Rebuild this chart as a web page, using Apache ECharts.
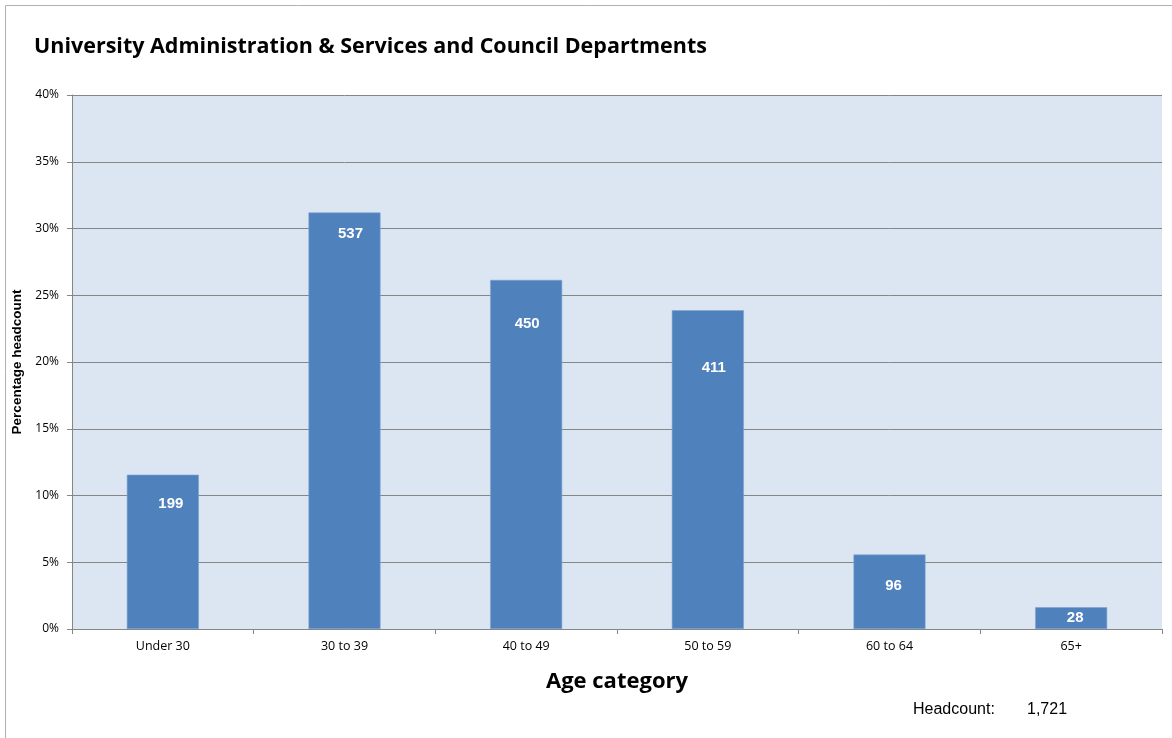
<!DOCTYPE html>
<html><head><meta charset="utf-8">
<script src="https://cdn.jsdelivr.net/npm/echarts@6/dist/echarts.min.js"></script>
<style>html,body{margin:0;padding:0;background:#fff}#c{width:1172px;height:738px}</style>
</head><body><div id="c"></div>
<script>
const categories = ['Under 30', '30 to 39', '40 to 49', '50 to 59', '60 to 64', '65+'];
const percentValues = [11.56, 31.20, 26.15, 23.88, 5.58, 1.63];
const headcounts = [199, 537, 450, 411, 96, 28];
const yTicks = [0, 5, 10, 15, 20, 25, 30, 35, 40];
const totalHeadcount = '1,721';
const labelDist = [22, 14, 36, 50, 24, 3];
const labelDx = [8, 6, 1, 6, 4, 4];

const chart = echarts.init(document.getElementById('c'));
chart.setOption({
  animation: false,
  title: {
    text: 'University Administration & Services and Council Departments',
    left: 29, top: 31,
    textStyle: {fontFamily: 'Open Sans', fontWeight: 'bold', fontSize: 21.5, color: '#000'}
  },
  graphic: [
    {type: 'rect', shape: {x: 5.5, y: 5.5, width: 1180, height: 740}, style: {fill: 'none', stroke: '#b0b0b0', lineWidth: 1}, z: -1},
    {type: 'text', left: 913, top: 702, style: {text: 'Headcount:', font: '16px "Liberation Sans", Arial', fill: '#000'}},
    {type: 'text', left: 1027, top: 702, style: {text: totalHeadcount, font: '16px "Liberation Sans", Arial', fill: '#000'}}
  ],
  grid: {left: 72, right: 10, top: 95, bottom: 109, backgroundColor: '#DCE6F2', show: true, borderWidth: 0},
  xAxis: {
    type: 'category', data: categories,
    name: 'Age category', nameLocation: 'middle', nameGap: 42,
    nameTextStyle: {fontFamily: 'Open Sans', fontWeight: 'bold', fontSize: 22, color: '#000'},
    axisLine: {lineStyle: {color: '#868686'}},
    axisTick: {show: true, length: 5, lineStyle: {color: '#868686'}},
    axisLabel: {fontFamily: 'Open Sans', fontSize: 12.5, color: '#000', margin: 11}
  },
  yAxis: {
    type: 'value', min: 0, max: 40, interval: 5,
    name: 'Percentage headcount', nameLocation: 'middle', nameGap: 43,
    nameTextStyle: {fontFamily: 'Liberation Sans', fontWeight: 'bold', fontSize: 13.5, color: '#000'},
    axisLine: {show: true, lineStyle: {color: '#868686'}},
    axisTick: {show: true, length: 5, lineStyle: {color: '#868686'}},
    splitLine: {lineStyle: {color: '#868686', width: 1}},
    axisLabel: {fontFamily: 'Open Sans', fontSize: 12, color: '#000', margin: 13,
      formatter: v => yTicks.includes(v) ? v + '%' : ''}
  },
  series: [{
    type: 'bar', barWidth: 72,
    itemStyle: {color: '#4F81BD', borderColor: '#7FA3D0', borderWidth: 0.6},
    data: percentValues.map((v, i) => ({
      value: v,
      label: {distance: labelDist[i], offset: [labelDx[i], 0]}
    })),
    label: {
      show: true, position: 'insideTop', color: '#fff',
      fontFamily: 'Liberation Sans', fontWeight: 'bold', fontSize: 15,
      formatter: p => headcounts[p.dataIndex]
    }
  }]
});
</script></body></html>
